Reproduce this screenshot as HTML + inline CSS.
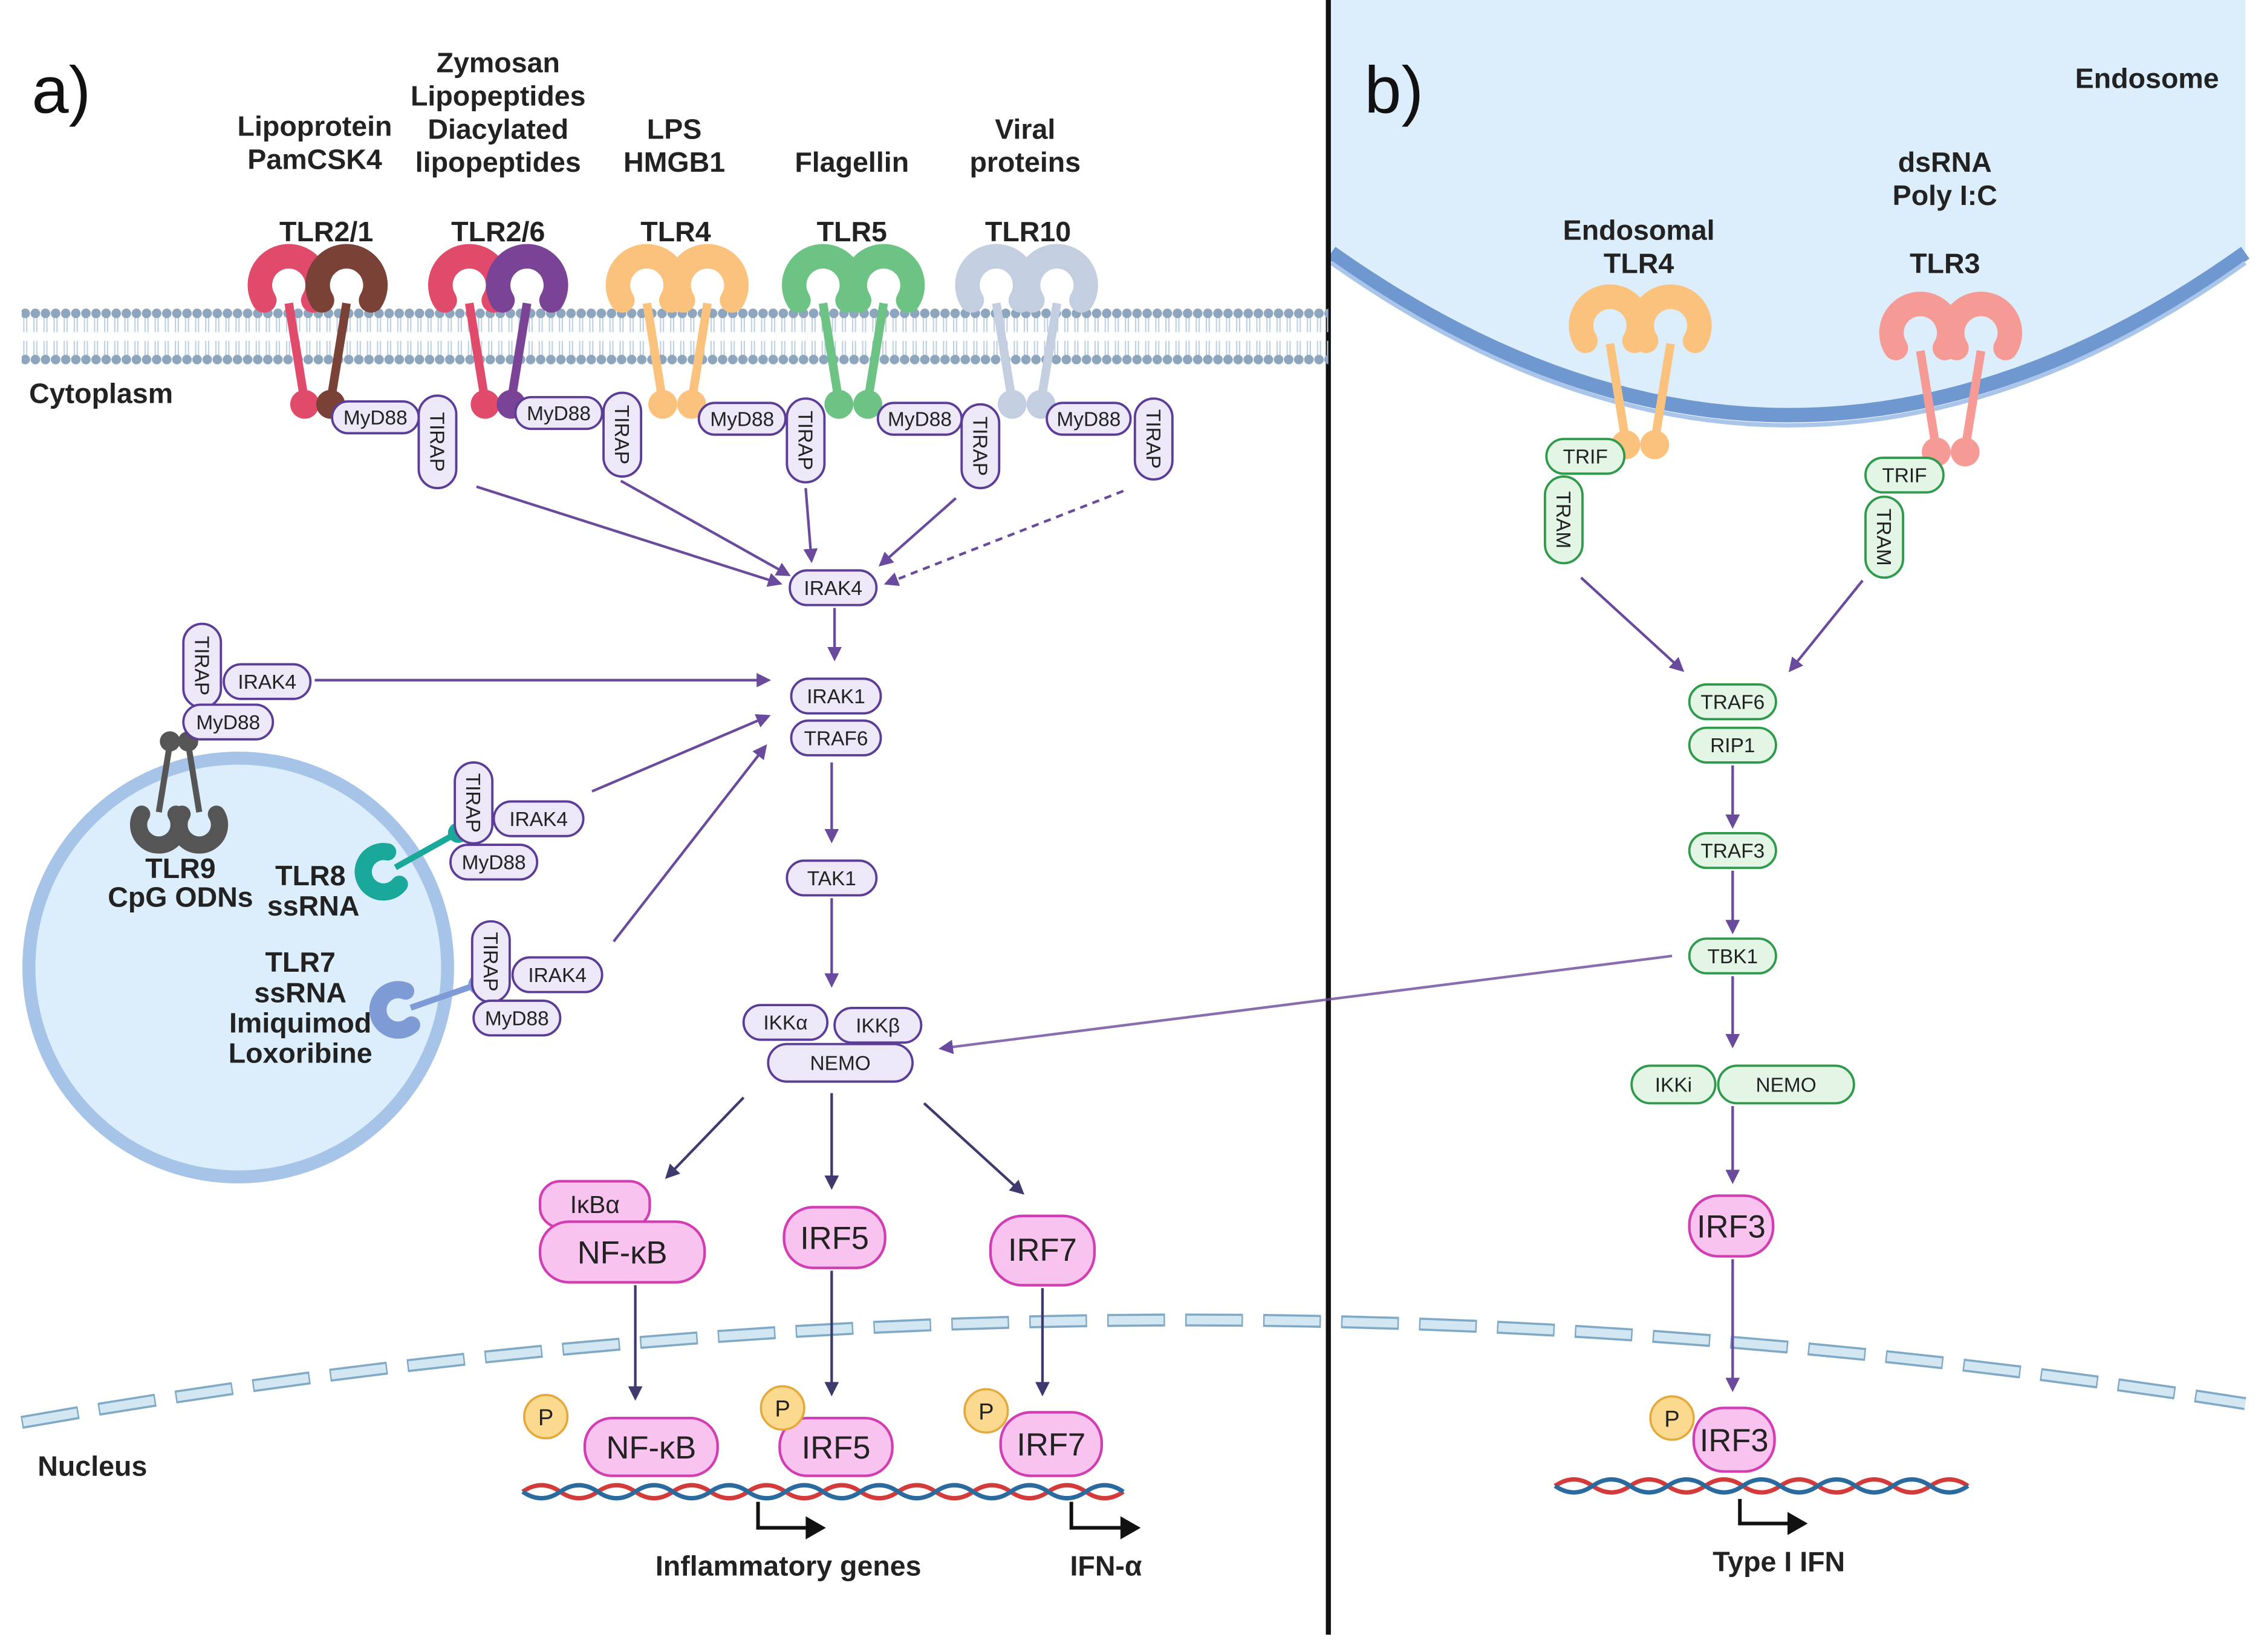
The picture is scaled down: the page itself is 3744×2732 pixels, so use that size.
<!DOCTYPE html>
<html><head><meta charset="utf-8"><style>
html,body{margin:0;padding:0;background:#fff;}
svg{display:block;}
text{font-family:"Liberation Sans",Arial,sans-serif;}
.b{font-weight:bold;font-size:19.5px;fill:#222;text-anchor:middle;}
.pb{fill:#ece8f8;stroke:#5b3d97;stroke-width:1.6;}
.pt{font-size:14px;fill:#222;text-anchor:middle;}
.gb{fill:#e3f6e6;stroke:#2f9a4c;stroke-width:1.6;}
.kb{fill:#f8c3ee;stroke:#d23db2;stroke-width:1.8;}
.kt{font-size:22px;fill:#222;text-anchor:middle;}
.ar{stroke:#6a4a9c;stroke-width:1.8;fill:none;marker-end:url(#ah);}
.ad{stroke:#3e3a6e;stroke-width:1.8;fill:none;marker-end:url(#ah2);}
</style></head><body>
<svg width="3744" height="2732" viewBox="0 0 1568 1144" preserveAspectRatio="none" xmlns="http://www.w3.org/2000/svg">
<defs>
<marker id="ah" markerWidth="10" markerHeight="10" refX="8" refY="5" orient="auto" markerUnits="userSpaceOnUse"><path d="M0,0 L10,5 L0,10 Z" fill="#6a4a9c"/></marker>
<marker id="ah2" markerWidth="10" markerHeight="10" refX="8" refY="5" orient="auto" markerUnits="userSpaceOnUse"><path d="M0,0 L10,5 L0,10 Z" fill="#3e3a6e"/></marker>
<pattern id="mem" x="0" y="213" width="7" height="40" patternUnits="userSpaceOnUse">
<line x1="2.5" y1="4" x2="2.5" y2="17" stroke="#bfd0e2" stroke-width="0.9"/>
<line x1="4.5" y1="4" x2="4.5" y2="17" stroke="#bfd0e2" stroke-width="0.9"/>
<line x1="2.5" y1="23" x2="2.5" y2="36" stroke="#bfd0e2" stroke-width="0.9"/>
<line x1="4.5" y1="23" x2="4.5" y2="36" stroke="#bfd0e2" stroke-width="0.9"/>
<circle cx="3.5" cy="4" r="3.3" fill="#8ea6bd"/>
<circle cx="3.5" cy="36" r="3.3" fill="#8ea6bd"/>
</pattern>
<symbol id="half" overflow="visible">
<path d="M-17,16 A20 20 0 1 1 17,16" fill="none" stroke-width="17" stroke-linecap="round"/>
<line x1="0" y1="18" x2="11" y2="86" stroke-width="6"/>
<circle cx="11" cy="88" r="10" stroke="none"/>
</symbol>
</defs>
<rect width="1568" height="1144" fill="#fff"/>

<!-- endosome -->
<path d="M922,0 L922,175 Q1240,400 1555,175 L1555,0 Z" fill="#dcedfb"/>
<path d="M922,175 Q1240,400 1555,175" fill="none" stroke="#6f98d0" stroke-width="10"/>
<path d="M922,182 Q1240,407 1555,182" fill="none" stroke="#a9c6ea" stroke-width="3"/>
<line x1="920" y1="0" x2="920" y2="1132" stroke="#111" stroke-width="3.5"/>

<!-- plasma membrane -->
<rect x="15" y="213" width="905" height="40" fill="url(#mem)"/>

<!-- vesicle -->
<circle cx="165" cy="670" r="145" fill="#dcedfb" stroke="#a6c4e8" stroke-width="9"/>

<!-- nuclear envelope -->
<path d="M15,985 Q780,850 1555,972" fill="none" stroke="#7fa9c4" stroke-width="9" stroke-dasharray="40 14"/>
<path d="M15,985 Q780,850 1555,972" fill="none" stroke="#d3e7f3" stroke-width="6" stroke-dasharray="38 16" stroke-dashoffset="-1"/>

<!-- labels -->
<text x="22" y="78" font-size="46" fill="#111">a)</text>
<text x="945" y="78" font-size="46" fill="#111">b)</text>
<text class="b" x="1487" y="61">Endosome</text>
<text class="b" x="70" y="279">Cytoplasm</text>
<text class="b" x="64" y="1022">Nucleus</text>
<text class="b" x="218" y="94">Lipoprotein</text><text class="b" x="218" y="117">PamCSK4</text>
<text class="b" x="345" y="50">Zymosan</text><text class="b" x="345" y="73">Lipopeptides</text><text class="b" x="345" y="96">Diacylated</text><text class="b" x="345" y="119">lipopeptides</text>
<text class="b" x="467" y="96">LPS</text><text class="b" x="467" y="119">HMGB1</text>
<text class="b" x="590" y="119">Flagellin</text>
<text class="b" x="710" y="96">Viral</text><text class="b" x="710" y="119">proteins</text>
<text class="b" x="226" y="167">TLR2/1</text><text class="b" x="345" y="167">TLR2/6</text><text class="b" x="468" y="167">TLR4</text><text class="b" x="590" y="167">TLR5</text><text class="b" x="712" y="167">TLR10</text>
<text class="b" x="1135" y="166">Endosomal</text><text class="b" x="1135" y="189">TLR4</text>
<text class="b" x="1347" y="119">dsRNA</text><text class="b" x="1347" y="142">Poly I:C</text><text class="b" x="1347" y="189">TLR3</text>

<!-- receptors -->
<use href="#half" x="200" y="192" stroke="#e04b6c" fill="#e04b6c"/>
<g transform="translate(240,192) scale(-1,1)"><use href="#half" stroke="#7a4236" fill="#7a4236"/></g>
<use href="#half" x="325" y="192" stroke="#e04b6c" fill="#e04b6c"/>
<g transform="translate(365,192) scale(-1,1)"><use href="#half" stroke="#7b4396" fill="#7b4396"/></g>
<use href="#half" x="448" y="192" stroke="#fbc27e" fill="#fbc27e"/>
<g transform="translate(490,192) scale(-1,1)"><use href="#half" stroke="#fbc27e" fill="#fbc27e"/></g>
<use href="#half" x="570" y="192" stroke="#6cc383" fill="#6cc383"/>
<g transform="translate(612,192) scale(-1,1)"><use href="#half" stroke="#6cc383" fill="#6cc383"/></g>
<use href="#half" x="690" y="192" stroke="#c3cee0" fill="#c3cee0"/>
<g transform="translate(732,192) scale(-1,1)"><use href="#half" stroke="#c3cee0" fill="#c3cee0"/></g>
<use href="#half" x="1115" y="220" stroke="#fbc27e" fill="#fbc27e"/>
<g transform="translate(1157,220) scale(-1,1)"><use href="#half" stroke="#fbc27e" fill="#fbc27e"/></g>
<use href="#half" x="1330" y="225" stroke="#f59a95" fill="#f59a95"/>
<g transform="translate(1372,225) scale(-1,1)"><use href="#half" stroke="#f59a95" fill="#f59a95"/></g>
<!-- vesicle receptors -->
<g transform="translate(110,575) scale(0.7,-0.7)"><use href="#half" stroke="#555" fill="#555"/></g>
<g transform="translate(138,575) scale(-0.7,-0.7)"><use href="#half" stroke="#555" fill="#555"/></g>
<g transform="translate(262,605) rotate(-110) scale(0.7)"><use href="#half" stroke="#1aa89a" fill="#1aa89a"/></g>
<g transform="translate(272,700) rotate(-100) scale(0.7)"><use href="#half" stroke="#7f9bd6" fill="#7f9bd6"/></g>
<text class="b" x="125" y="608">TLR9</text><text class="b" x="125" y="628">CpG ODNs</text>
<text class="b" x="215" y="613">TLR8</text><text class="b" x="217" y="634">ssRNA</text>
<text class="b" x="208" y="673">TLR7</text><text class="b" x="208" y="694">ssRNA</text><text class="b" x="208" y="715">Imiquimod</text><text class="b" x="208" y="736">Loxoribine</text>

<!-- MyD88/TIRAP top -->
<g>
<rect class="pb" x="230" y="278" width="60" height="22" rx="11"/><text class="pt" x="260" y="294">MyD88</text>
<rect class="pb" x="290" y="274" width="26" height="64" rx="13"/><text class="pt" transform="translate(298,306) rotate(90)">TIRAP</text>
<rect class="pb" x="357" y="275" width="60" height="22" rx="11"/><text class="pt" x="387" y="291">MyD88</text>
<rect class="pb" x="418" y="272" width="26" height="58" rx="13"/><text class="pt" transform="translate(426,301) rotate(90)">TIRAP</text>
<rect class="pb" x="484" y="279" width="60" height="22" rx="11"/><text class="pt" x="514" y="295">MyD88</text>
<rect class="pb" x="545" y="276" width="26" height="58" rx="13"/><text class="pt" transform="translate(553,305) rotate(90)">TIRAP</text>
<rect class="pb" x="608" y="279" width="58" height="22" rx="11"/><text class="pt" x="637" y="295">MyD88</text>
<rect class="pb" x="666" y="280" width="26" height="58" rx="13"/><text class="pt" transform="translate(674,309) rotate(90)">TIRAP</text>
<rect class="pb" x="725" y="279" width="58" height="22" rx="11"/><text class="pt" x="754" y="295">MyD88</text>
<rect class="pb" x="786" y="276" width="26" height="56" rx="13"/><text class="pt" transform="translate(794,304) rotate(90)">TIRAP</text>
</g>
<!-- left groups -->
<rect class="pb" x="127" y="432" width="26" height="58" rx="13"/><text class="pt" transform="translate(135,461) rotate(90)">TIRAP</text>
<rect class="pb" x="155" y="460" width="60" height="24" rx="12"/><text class="pt" x="185" y="477">IRAK4</text>
<rect class="pb" x="127" y="488" width="62" height="24" rx="12"/><text class="pt" x="158" y="505">MyD88</text>
<rect class="pb" x="315" y="528" width="26" height="56" rx="13"/><text class="pt" transform="translate(323,556) rotate(90)">TIRAP</text>
<rect class="pb" x="342" y="555" width="62" height="24" rx="12"/><text class="pt" x="373" y="572">IRAK4</text>
<rect class="pb" x="312" y="585" width="60" height="24" rx="12"/><text class="pt" x="342" y="602">MyD88</text>
<rect class="pb" x="327" y="638" width="26" height="56" rx="13"/><text class="pt" transform="translate(335,666) rotate(90)">TIRAP</text>
<rect class="pb" x="355" y="663" width="62" height="24" rx="12"/><text class="pt" x="386" y="680">IRAK4</text>
<rect class="pb" x="328" y="693" width="60" height="24" rx="12"/><text class="pt" x="358" y="710">MyD88</text>

<!-- central purple -->
<rect class="pb" x="547" y="395" width="60" height="24" rx="12"/><text class="pt" x="577" y="412">IRAK4</text>
<rect class="pb" x="548" y="470" width="62" height="24" rx="12"/><text class="pt" x="579" y="487">IRAK1</text>
<rect class="pb" x="548" y="499" width="62" height="24" rx="12"/><text class="pt" x="579" y="516">TRAF6</text>
<rect class="pb" x="545" y="596" width="62" height="24" rx="12"/><text class="pt" x="576" y="613">TAK1</text>
<rect class="pb" x="532" y="723" width="100" height="26" rx="13"/><text class="pt" x="582" y="741">NEMO</text>
<rect class="pb" x="515" y="696" width="58" height="24" rx="12"/><text class="pt" x="544" y="713">IKKα</text>
<rect class="pb" x="578" y="698" width="60" height="24" rx="12"/><text class="pt" x="608" y="715">IKKβ</text>

<!-- green right -->
<rect class="gb" x="1071" y="304" width="54" height="24" rx="12"/><text class="pt" x="1098" y="321">TRIF</text>
<rect class="gb" x="1070" y="330" width="26" height="60" rx="13"/><text class="pt" transform="translate(1078,360) rotate(90)">TRAM</text>
<rect class="gb" x="1292" y="317" width="54" height="24" rx="12"/><text class="pt" x="1319" y="334">TRIF</text>
<rect class="gb" x="1292" y="344" width="26" height="56" rx="13"/><text class="pt" transform="translate(1300,372) rotate(90)">TRAM</text>
<rect class="gb" x="1170" y="474" width="60" height="24" rx="12"/><text class="pt" x="1200" y="491">TRAF6</text>
<rect class="gb" x="1170" y="504" width="60" height="24" rx="12"/><text class="pt" x="1200" y="521">RIP1</text>
<rect class="gb" x="1170" y="577" width="60" height="24" rx="12"/><text class="pt" x="1200" y="594">TRAF3</text>
<rect class="gb" x="1170" y="650" width="60" height="24" rx="12"/><text class="pt" x="1200" y="667">TBK1</text>
<rect class="gb" x="1130" y="738" width="58" height="26" rx="13"/><text class="pt" x="1159" y="756">IKKi</text>
<rect class="gb" x="1190" y="738" width="94" height="26" rx="13"/><text class="pt" x="1237" y="756">NEMO</text>

<!-- pink -->
<rect class="kb" x="374" y="818" width="76" height="32" rx="14"/><text class="pt" x="412" y="840" style="font-size:17px">IκBα</text>
<rect class="kb" x="374" y="846" width="114" height="42" rx="20"/><text class="kt" x="431" y="875">NF-κB</text>
<rect class="kb" x="543" y="836" width="70" height="42" rx="20"/><text class="kt" x="578" y="865">IRF5</text>
<rect class="kb" x="686" y="842" width="72" height="48" rx="22"/><text class="kt" x="722" y="873">IRF7</text>
<rect class="kb" x="1170" y="828" width="58" height="42" rx="20"/><text class="kt" x="1199" y="857">IRF3</text>

<!-- DNA -->
<g fill="none" stroke-width="3">
<path d="M362,1033 q13,-9 26,0 t26,0 t26,0 t26,0 t26,0 t26,0 t26,0 t26,0 t26,0 t26,0 t26,0 t26,0 t26,0 t26,0 t26,0 t26,0" stroke="#d33a3a"/>
<path d="M362,1033 q13,9 26,0 t26,0 t26,0 t26,0 t26,0 t26,0 t26,0 t26,0 t26,0 t26,0 t26,0 t26,0 t26,0 t26,0 t26,0 t26,0" stroke="#2b6a9e"/>
<path d="M1077,1029 q13,-9 26,0 t26,0 t26,0 t26,0 t26,0 t26,0 t26,0 t26,0 t26,0 t26,0 t26,0" stroke="#d33a3a"/>
<path d="M1077,1029 q13,9 26,0 t26,0 t26,0 t26,0 t26,0 t26,0 t26,0 t26,0 t26,0 t26,0 t26,0" stroke="#2b6a9e"/>
</g>
<rect class="kb" x="405" y="982" width="92" height="40" rx="19"/><text class="kt" x="451" y="1010">NF-κB</text>
<rect class="kb" x="540" y="982" width="78" height="40" rx="19"/><text class="kt" x="579" y="1010">IRF5</text>
<rect class="kb" x="693" y="978" width="70" height="44" rx="21"/><text class="kt" x="728" y="1008">IRF7</text>
<rect class="kb" x="1173" y="975" width="56" height="44" rx="21"/><text class="kt" x="1201" y="1005">IRF3</text>
<g fill="#fbd98e" stroke="#e3a93c" stroke-width="1.5">
<circle cx="378" cy="981" r="15"/><circle cx="542" cy="975" r="15"/><circle cx="683" cy="977" r="15"/><circle cx="1158" cy="982" r="15"/>
</g>
<g><text class="pt" x="378" y="987" style="font-size:16px">P</text><text class="pt" x="542" y="981" style="font-size:16px">P</text><text class="pt" x="683" y="983" style="font-size:16px">P</text><text class="pt" x="1158" y="988" style="font-size:16px">P</text></g>
<g fill="none" stroke="#111" stroke-width="2.5">
<path d="M525,1040 V1058 H560"/><path d="M742,1040 V1058 H778"/><path d="M1205,1038 V1055 H1240"/>
</g>
<g fill="#111"><path d="M558,1050 L572,1058 L558,1066Z"/><path d="M776,1050 L790,1058 L776,1066Z"/><path d="M1238,1047 L1252,1055 L1238,1063Z"/></g>
<text class="b" x="546" y="1091">Inflammatory genes</text>
<text class="b" x="766" y="1091">IFN-α</text>
<text class="b" x="1232" y="1088">Type I IFN</text>

<!-- arrows -->
<path class="ar" d="M330,337 L540,404"/>
<path class="ar" d="M430,333 L546,398"/>
<path class="ar" d="M558,338 L562,388"/>
<path class="ar" d="M662,345 L610,391"/>
<path class="ar" d="M778,340 L614,404" stroke-dasharray="5 4"/>
<path class="ar" d="M578,421 L578,456"/>
<path class="ar" d="M218,471 L532,471"/>
<path class="ar" d="M410,548 L532,496"/>
<path class="ar" d="M425,652 L530,517"/>
<path class="ar" d="M576,528 L576,582"/>
<path class="ar" d="M576,622 L576,682"/>
<path class="ar" d="M1158,662 L652,726" style="stroke-opacity:0.8"/>
<path class="ad" d="M515,760 L462,815"/>
<path class="ad" d="M576,757 L576,822"/>
<path class="ad" d="M640,764 L708,826"/>
<path class="ad" d="M440,890 L440,968"/>
<path class="ad" d="M576,880 L576,965"/>
<path class="ad" d="M722,892 L722,965"/>
<path class="ar" d="M1095,400 L1165,464"/>
<path class="ar" d="M1290,402 L1240,464"/>
<path class="ar" d="M1200,530 L1200,572"/>
<path class="ar" d="M1200,603 L1200,645"/>
<path class="ar" d="M1200,676 L1200,724"/>
<path class="ar" d="M1200,766 L1200,818"/>
<path class="ar" d="M1200,872 L1200,962"/>
</svg>
</body></html>
